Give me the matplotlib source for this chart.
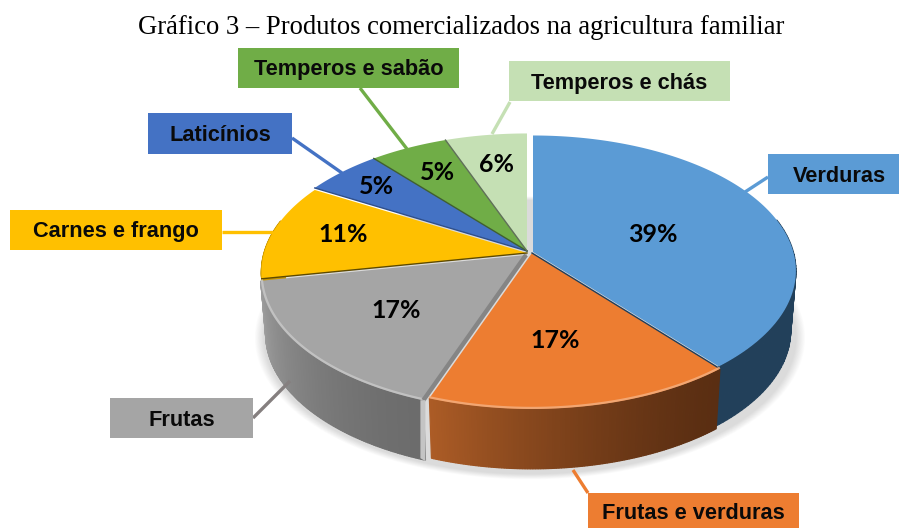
import numpy as np
import matplotlib
matplotlib.use("Agg")
import matplotlib.pyplot as plt
from matplotlib.colors import to_rgb
from matplotlib.patches import Rectangle

## Data
categories = ["Verduras", "Frutas e verduras", "Frutas", "Carnes e frango",
              "Laticínios", "Temperos e sabão", "Temperos e chás"]
values = [39.0, 16.5, 16.5, 11.4, 5.45, 5.45, 5.7]

## Styles and layout, one entry per slice
colors = ["#5B9BD5", "#ED7D31", "#A5A5A5", "#FFC000", "#4472C4", "#70AD47", "#C5E0B4"]
wall_left = ["#22405A", "#AC5C26", "#A2A2A2", "#C89600", "#2F5496", "#4E7A32", "#8FA880"]
wall_right = ["#22405A", "#5A2E12", "#6C6C6C", "#C89600", "#2F5496", "#4E7A32", "#8FA880"]
edge_colors = ["#6E7E64", "#1F3E5C", "#7F7F7F", "#5E4A00", "#2F4F8A", "#3F5F30", "#5F6F58"]
apex = [(533, 252), (532, 253), (526, 255), (527, 253), (527, 251), (527, 251), (527, 251)]
r_scale = [0.99, 1, 1, 1, 1, 1, 1]
boxes = [(768, 154, 899, 194), (588, 493, 799, 528), (110, 398, 253, 438), (10, 210, 222, 250),
         (148, 113, 292, 154), (238, 48, 459, 88), (509, 61, 730, 101)]
leaders = [((768, 177), (745, 192)), ((588, 493), (573, 470)), ((253, 418), (290, 381)),
           ((222, 232), (273, 232)), ((292, 138), (342, 173)), ((360, 88), (407, 149)),
           ((510, 102), (492, 134))]
pct_pos = [(653, 234), (555, 340), (396, 310), (343, 235), (376, 187), (437, 172), (496, 165)]

# Ellipse with a bit of perspective, the front is larger than the back
R = 263
K = 134
P = 0.14
DEPTH = 60


def project(angle, center, r=1.0):
    u = r * np.cos(angle)
    v = r * np.sin(angle)
    s = 1 / (1 + P * v)
    return center[0] + R * u * s, center[1] - K * v * s


def mix(c1, c2, t):
    a = np.array(to_rgb(c1))
    b = np.array(to_rgb(c2))
    return tuple(a + (b - a) * t)


fig = plt.figure(figsize=(8.99, 5.28), dpi=100)
ax = fig.add_axes([0, 0, 1, 1])
ax.set_xlim(0, 899)
ax.set_ylim(528, 0)
ax.axis("off")

# Slice angles, clockwise from the top
total = sum(values)
ends = np.cumsum(values) / total * 2 * np.pi
starts = np.concatenate([[0], ends[:-1]])
theta_start = np.pi / 2 - starts
theta_end = np.pi / 2 - ends

# Soft shadow below the pie
t = np.linspace(0, 2 * np.pi, 200)
sx, sy = project(t, (530, 253))
for i in range(12):
    grow = 1 + (12 - i) * 0.003
    ax.fill(530 + (sx - 530) * grow, 253 + DEPTH + 5 + (sy - 253) * grow, color="#000000",
            alpha=0.01, lw=0, zorder=1)

# Walls, back to front
quads = []
for i in range(len(values)):
    a = np.linspace(theta_start[i], theta_end[i], 120)
    for j in range(len(a) - 1):
        if np.sin((a[j] + a[j + 1]) / 2) < 0.25:
            quads.append((np.sin((a[j] + a[j + 1]) / 2), i, a[j], a[j + 1], j / (len(a) - 2)))
quads.sort(key=lambda q: -q[0])
for _, i, a0, a1, frac in quads:
    x0, y0 = project(a0, apex[i], r_scale[i])
    x1, y1 = project(a1, apex[i], r_scale[i])
    c = apex[i][0]
    bx0 = c + (x0 - c) * 0.98
    bx1 = c + (x1 - c) * 0.98
    # Clockwise walls go right to left, so the left colour sits at the end of the slice
    col = mix(wall_right[i], wall_left[i], frac ** 1.5)
    ax.fill([x0, x1, bx1, bx0], [y0, y1, y1 + DEPTH, y0 + DEPTH], color=col, lw=0.9, ec=col, zorder=2)

# Top faces, with a dark line on the first radial edge only
for i in range(len(values)):
    a = np.linspace(theta_start[i], theta_end[i], 120)
    x, y = project(a, apex[i], r_scale[i])
    px = np.concatenate([[apex[i][0]], x])
    py = np.concatenate([[apex[i][1]], y])
    ax.fill(px, py, color=colors[i], lw=0, zorder=3)
for i in range(1, len(values)):
    x0, y0 = project(theta_start[i], apex[i], r_scale[i])
    ax.plot([apex[i][0], x0], [apex[i][1], y0], color=edge_colors[i], lw=1.0, zorder=4)

# Light rim on the front of the orange and grey slices
for i in [1, 2]:
    a = np.linspace(theta_start[i], theta_end[i], 120)
    x, y = project(a, apex[i], 0.995)
    ax.plot(x, y, color=mix(colors[i], "#FFFFFF", 0.4), lw=1.6, alpha=0.8, zorder=4)

# Cut face of the grey slice, seen between grey and orange
x_cut, y_cut = project(theta_start[2], apex[2])
ax.plot([apex[2][0], x_cut], [apex[2][1], y_cut], color="#858585", lw=3.2, zorder=5,
        solid_capstyle="butt")
ax.fill([x_cut - 3, x_cut + 2, x_cut + 2, x_cut - 3],
        [y_cut, y_cut, y_cut + DEPTH + 1, y_cut + DEPTH - 2], color="#C4C4C4", lw=0, zorder=5)

# Leader lines and label boxes
for i in range(len(categories)):
    ax.plot(*zip(*leaders[i]), color=colors[i] if i != 2 else "#857F7F", lw=2.4, zorder=6,
            solid_capstyle="butt")
    x0, y0, x1, y1 = boxes[i]
    ax.add_patch(Rectangle((x0, y0), x1 - x0, y1 - y0, fc=colors[i], ec="none", zorder=7))
    ax.text((x0 + x1) / 2 + (6 if i == 0 else 0), (y0 + y1) / 2 + (2 if i != 1 else 3), categories[i],
            family="Liberation Sans", weight="bold", fontsize=15.7, color="#0A0A0A",
            ha="center", va="center", zorder=8)

# Percentages
for i in range(len(values)):
    ax.text(pct_pos[i][0], pct_pos[i][1], "%d%%" % int(values[i] + 0.5), family="Lato", weight="bold",
            fontsize=18, color="black", ha="center", va="center", zorder=8)

ax.text(461.5, 28, "Gráfico 3 – Produtos comercializados na agricultura familiar",
        family="Liberation Serif", fontsize=19.2, color="black", ha="center", va="center", zorder=8)

fig.savefig("out.png", dpi=100)
